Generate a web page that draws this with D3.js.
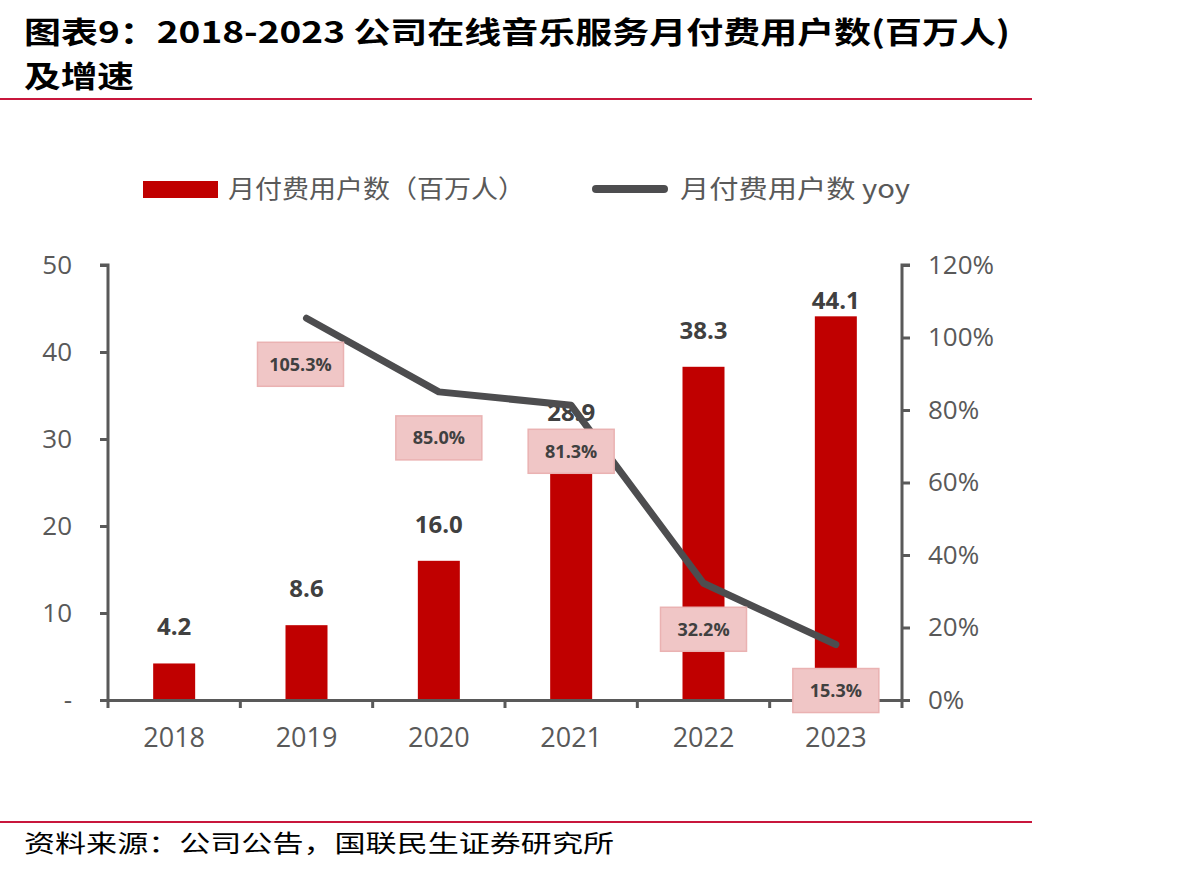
<!DOCTYPE html>
<html>
<head>
<meta charset="utf-8">
<script src="https://cdn.jsdelivr.net/npm/d3@7"></script>
<style>
  body { margin: 0; background: #fff; }
  svg { display: block; font-family: "Noto Sans CJK SC", "Noto Sans", sans-serif; }
</style>
</head>
<body>
<div id="chart"></div>
<script>
var years = ["2018", "2019", "2020", "2021", "2022", "2023"];
var payingUsers = [4.2, 8.6, 16.0, 28.9, 38.3, 44.1];
var yoy = [null, 105.3, 85.0, 81.3, 32.2, 15.3];
var leftTicks = [0, 10, 20, 30, 40, 50];
var rightTicks = [0, 20, 40, 60, 80, 100, 120];

var width = 1187, height = 874;
var plot = {left: 108, right: 902, top: 265, bottom: 700};

var svg = d3.select("#chart").append("svg")
  .attr("width", width)
  .attr("height", height);

// title + rules
svg.append("text").attr("x", 24).attr("y", 43)
  .attr("textLength", 986).attr("lengthAdjust", "spacingAndGlyphs")
  .style("font", "bold 30px 'Noto Sans CJK SC'").style("fill", "#000")
  .text("图表9：2018-2023 公司在线音乐服务月付费用户数(百万人)");
svg.append("text").attr("x", 24).attr("y", 87)
  .attr("textLength", 110).attr("lengthAdjust", "spacingAndGlyphs")
  .style("font", "bold 30px 'Noto Sans CJK SC'").style("fill", "#000")
  .text("及增速");
svg.append("line").attr("x1", 0).attr("x2", 1032).attr("y1", 99).attr("y2", 99)
  .style("stroke", "#c8173c").style("stroke-width", 2);
svg.append("line").attr("x1", 0).attr("x2", 1032).attr("y1", 822).attr("y2", 822)
  .style("stroke", "#c8173c").style("stroke-width", 2);
svg.append("text").attr("x", 24).attr("y", 852)
  .attr("textLength", 590).attr("lengthAdjust", "spacingAndGlyphs")
  .style("font", "24px 'Noto Sans CJK SC'").style("fill", "#000")
  .text("资料来源：公司公告，国联民生证券研究所");

var xb = d3.scaleBand().domain(years).range([plot.left, plot.right]);
var yL = d3.scaleLinear().domain([0, 50]).range([plot.bottom, plot.top]);
var yR = d3.scaleLinear().domain([0, 120]).range([plot.bottom, plot.top]);

var axisColor = "#595959";

// bars
svg.selectAll("rect.bar")
  .data(payingUsers)
  .enter().append("rect")
  .attr("class", "bar")
  .attr("x", function(d, i) { return xb(years[i]) + xb.bandwidth() / 2 - 21; })
  .attr("width", 42)
  .attr("y", function(d) { return yL(d); })
  .attr("height", function(d) { return yL(0) - yL(d); })
  .style("fill", "#c00000");

// axes
var gL = svg.append("g").attr("transform", "translate(" + plot.left + ",0)")
  .call(d3.axisLeft(yL).tickValues(leftTicks).tickSize(8).tickPadding(28)
    .tickFormat(function(d) { return d === 0 ? "-" : d; }));
var gR = svg.append("g").attr("transform", "translate(" + plot.right + ",0)")
  .call(d3.axisRight(yR).tickValues(rightTicks).tickSize(8).tickPadding(18)
    .tickFormat(function(d) { return d + "%"; }));
var gX = svg.append("g").attr("transform", "translate(0," + plot.bottom + ")")
  .call(d3.axisBottom(xb).tickSize(0).tickPadding(28));
// category boundary ticks
svg.selectAll("line.xtick")
  .data(years.slice(1))
  .enter().append("line")
  .attr("class", "xtick")
  .attr("x1", function(d) { return xb(d); })
  .attr("x2", function(d) { return xb(d); })
  .attr("y1", plot.bottom).attr("y2", plot.bottom + 8)
  .style("stroke", axisColor).style("stroke-width", 3);

[gL, gR, gX].forEach(function(g) {
  g.select(".domain").style("stroke", axisColor).style("stroke-width", 3);
  g.selectAll(".tick line").style("stroke", axisColor).style("stroke-width", 3);
  g.selectAll(".tick text").style("font", "26px 'Open Sans', 'Noto Sans'").style("fill", axisColor);
});
gX.selectAll(".tick text").style("font-size", "27px");
gX.select(".domain").attr("d", "M" + (plot.left - 8) + ",0.5H" + (plot.right + 8));
gL.select(".domain").attr("d", "M-8," + plot.top + "H0V" + (plot.bottom + 8));
gR.select(".domain").attr("d", "M8," + plot.top + "H0V" + (plot.bottom + 8));

// bar value labels
svg.selectAll("text.val")
  .data(payingUsers)
  .enter().append("text")
  .attr("class", "val")
  .attr("x", function(d, i) { return xb(years[i]) + xb.bandwidth() / 2; })
  .attr("y", function(d) { return Math.max(yL(d) - 28, 309); })
  .attr("text-anchor", "middle")
  .style("font", "bold 24px 'Open Sans', 'Noto Sans'")
  .style("fill", "#404040")
  .text(function(d) { return d.toFixed(1); });

// yoy line
var pts = yoy.map(function(d, i) { return {year: years[i], v: d}; }).filter(function(d) { return d.v !== null; });
var line = d3.line()
  .x(function(d) { return xb(d.year) + xb.bandwidth() / 2; })
  .y(function(d) { return yR(d.v); });
svg.append("path")
  .datum(pts)
  .attr("d", line)
  .style("fill", "none")
  .style("stroke", "#4d4d4f")
  .style("stroke-width", 7)
  .style("stroke-linejoin", "round")
  .style("stroke-linecap", "round");

// yoy label boxes
var lab = svg.selectAll("g.yoy")
  .data(pts)
  .enter().append("g")
  .attr("class", "yoy")
  .attr("transform", function(d, i) {
    var dx = i === 0 ? -6 : 0;
    return "translate(" + (xb(d.year) + xb.bandwidth() / 2 + dx) + "," + (yR(d.v) + 46) + ")";
  });
lab.append("rect")
  .attr("x", -43).attr("y", -22).attr("width", 86).attr("height", 44)
  .style("fill", "#f0c6c6").style("stroke", "#eab2b2").style("stroke-width", 1.5);
lab.append("text")
  .attr("text-anchor", "middle").attr("dy", "0.36em")
  .style("font", "bold 18px 'Open Sans', 'Noto Sans'")
  .style("fill", "#404040")
  .text(function(d) { return d.v.toFixed(1) + "%"; });

// legend
var leg = svg.append("g").style("font", "25px 'Noto Sans CJK SC'");
leg.append("rect").attr("x", 143).attr("y", 181).attr("width", 75).attr("height", 17).style("fill", "#c00000");
leg.append("text").attr("x", 228).attr("y", 189).attr("dy", "0.35em")
  .attr("textLength", 297).attr("lengthAdjust", "spacingAndGlyphs")
  .style("fill", axisColor).text("月付费用户数（百万人）");
leg.append("line").attr("x1", 596).attr("x2", 664).attr("y1", 189).attr("y2", 189)
  .style("stroke", "#4d4d4f").style("stroke-width", 8).style("stroke-linecap", "round");
leg.append("text").attr("x", 680).attr("y", 189).attr("dy", "0.35em")
  .attr("textLength", 230).attr("lengthAdjust", "spacingAndGlyphs")
  .style("fill", axisColor).text("月付费用户数 yoy");
</script>
</body>
</html>
